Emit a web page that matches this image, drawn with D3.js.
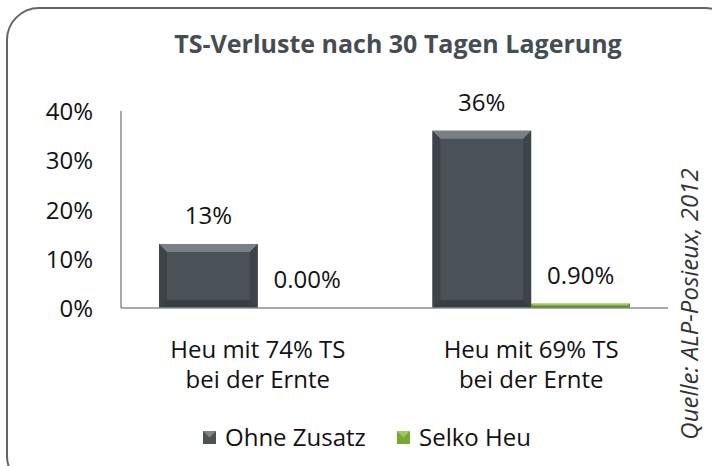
<!DOCTYPE html>
<html>
<head>
<meta charset="utf-8">
<script src="https://cdn.jsdelivr.net/npm/d3@7"></script>
<style>
  body { margin: 0; background: #fff; }
  text { font-family: "Open Sans", sans-serif; fill: #111; }
</style>
</head>
<body>
<div id="viz"></div>
<script>
const categories = ["Heu mit 74% TS|bei der Ernte", "Heu mit 69% TS|bei der Ernte"];
const seriesNames = ["Ohne Zusatz", "Selko Heu"];
const ohneZusatz = [0.13, 0.36];
const selkoHeu = [0.0, 0.009];
const valueLabels = [["13%", "36%"], ["0.00%", "0.90%"]];
const yTicks = [0, 0.1, 0.2, 0.3, 0.4];

const W = 712, H = 466;
const svg = d3.select("#viz").append("svg")
  .attr("width", W).attr("height", H);

const colors = ["#4a5157", "#76a834"];
const lights = ["#8a9297", "#a8d26a"];
const darks = ["#30363b", "#4f7a1e"];

// frame
svg.append("rect")
  .attr("x", 7).attr("y", 8)
  .attr("width", 730).attr("height", 480)
  .attr("rx", 32).attr("ry", 32)
  .attr("fill", "#fff")
  .attr("stroke", "#5f666b")
  .attr("stroke-width", 2);

svg.append("text")
  .attr("x", 398).attr("y", 53)
  .attr("text-anchor", "middle")
  .style("font-size", "25px")
  .style("font-weight", "bold")
  .style("fill", "#454d53")
  .text("TS-Verluste nach 30 Tagen Lagerung");

const x0 = d3.scaleBand().domain(categories).range([121, 668]).paddingInner(0.277).paddingOuter(0.139);
const x1 = d3.scaleBand().domain(seriesNames).range([0, x0.bandwidth()]);
const y = d3.scaleLinear().domain([0, 0.4]).range([308, 111]);

// y axis line and labels
svg.append("line")
  .attr("x1", 121).attr("x2", 121)
  .attr("y1", y(0.4)).attr("y2", y(0))
  .attr("stroke", "#8c8c8c").attr("stroke-width", 1.5);

svg.selectAll(".ytick")
  .data(yTicks)
  .join("text")
  .attr("class", "ytick")
  .attr("x", 93)
  .attr("y", d => y(d) + 9)
  .attr("text-anchor", "end")
  .style("font-size", "24px")
  .text(d3.format(".0%"));

const series = [ohneZusatz, selkoHeu];

series.forEach((vals, s) => {
  vals.forEach((v, i) => {
    const bx = x0(categories[i]) + x1(seriesNames[s]);
    const bw = x1.bandwidth();
    const top = y(v);
    const bh = y(0) - top;
    if (bh <= 0) return;
    const g = svg.append("g");
    g.append("rect")
      .attr("x", bx).attr("y", top)
      .attr("width", bw).attr("height", bh)
      .attr("fill", colors[s]);
    // bevel edges
    const b = Math.min(8, bh / 2, bw / 2);
    g.append("polygon")
      .attr("points", `${bx},${top} ${bx + bw},${top} ${bx + bw - b},${top + b} ${bx + b},${top + b}`)
      .attr("fill", lights[s]).attr("opacity", 0.75);
    g.append("polygon")
      .attr("points", `${bx},${top} ${bx + b},${top + b} ${bx + b},${top + bh - b} ${bx},${top + bh}`)
      .attr("fill", darks[s]).attr("opacity", 0.5);
    g.append("polygon")
      .attr("points", `${bx + bw},${top} ${bx + bw - b},${top + b} ${bx + bw - b},${top + bh - b} ${bx + bw},${top + bh}`)
      .attr("fill", darks[s]).attr("opacity", 0.5);
    g.append("polygon")
      .attr("points", `${bx},${top + bh} ${bx + b},${top + bh - b} ${bx + bw - b},${top + bh - b} ${bx + bw},${top + bh}`)
      .attr("fill", darks[s]).attr("opacity", 0.7);
  });
});

// baseline
svg.append("line")
  .attr("x1", 121).attr("x2", 668)
  .attr("y1", y(0)).attr("y2", y(0))
  .attr("stroke", "#8c8c8c").attr("stroke-width", 1.5);

// value labels
series.forEach((vals, s) => {
  vals.forEach((v, i) => {
    svg.append("text")
      .attr("x", x0(categories[i]) + x1(seriesNames[s]) + x1.bandwidth() / 2)
      .attr("y", y(v) - 20)
      .attr("text-anchor", "middle")
      .style("font-size", "24px")
      .text(valueLabels[s][i]);
  });
});

// category labels
categories.forEach(c => {
  const lines = c.split("|");
  lines.forEach((ln, k) => {
    svg.append("text")
      .attr("x", x0(c) + x0.bandwidth() / 2)
      .attr("y", 358 + k * 30)
      .attr("text-anchor", "middle")
      .style("font-size", "24px")
      .text(ln);
  });
});

// legend
const legendX = [203, 397];
seriesNames.forEach((n, s) => {
  const lx = legendX[s];
  svg.append("rect")
    .attr("x", lx).attr("y", 431)
    .attr("width", 13).attr("height", 13)
    .attr("fill", colors[s]);
  svg.append("polygon")
    .attr("points", `${lx},431 ${lx + 13},431 ${lx + 6.5},437.5`)
    .attr("fill", lights[s]).attr("opacity", 0.8);
  svg.append("text")
    .attr("x", lx + 22).attr("y", 446)
    .style("font-size", "24px")
    .text(n);
});

// source
svg.append("text")
  .attr("transform", "translate(698,304) rotate(-90)")
  .attr("text-anchor", "middle")
  .style("font-size", "24px")
  .style("font-style", "italic")
  .style("fill", "#333")
  .text("Quelle: ALP-Posieux, 2012");
</script>
</body>
</html>
